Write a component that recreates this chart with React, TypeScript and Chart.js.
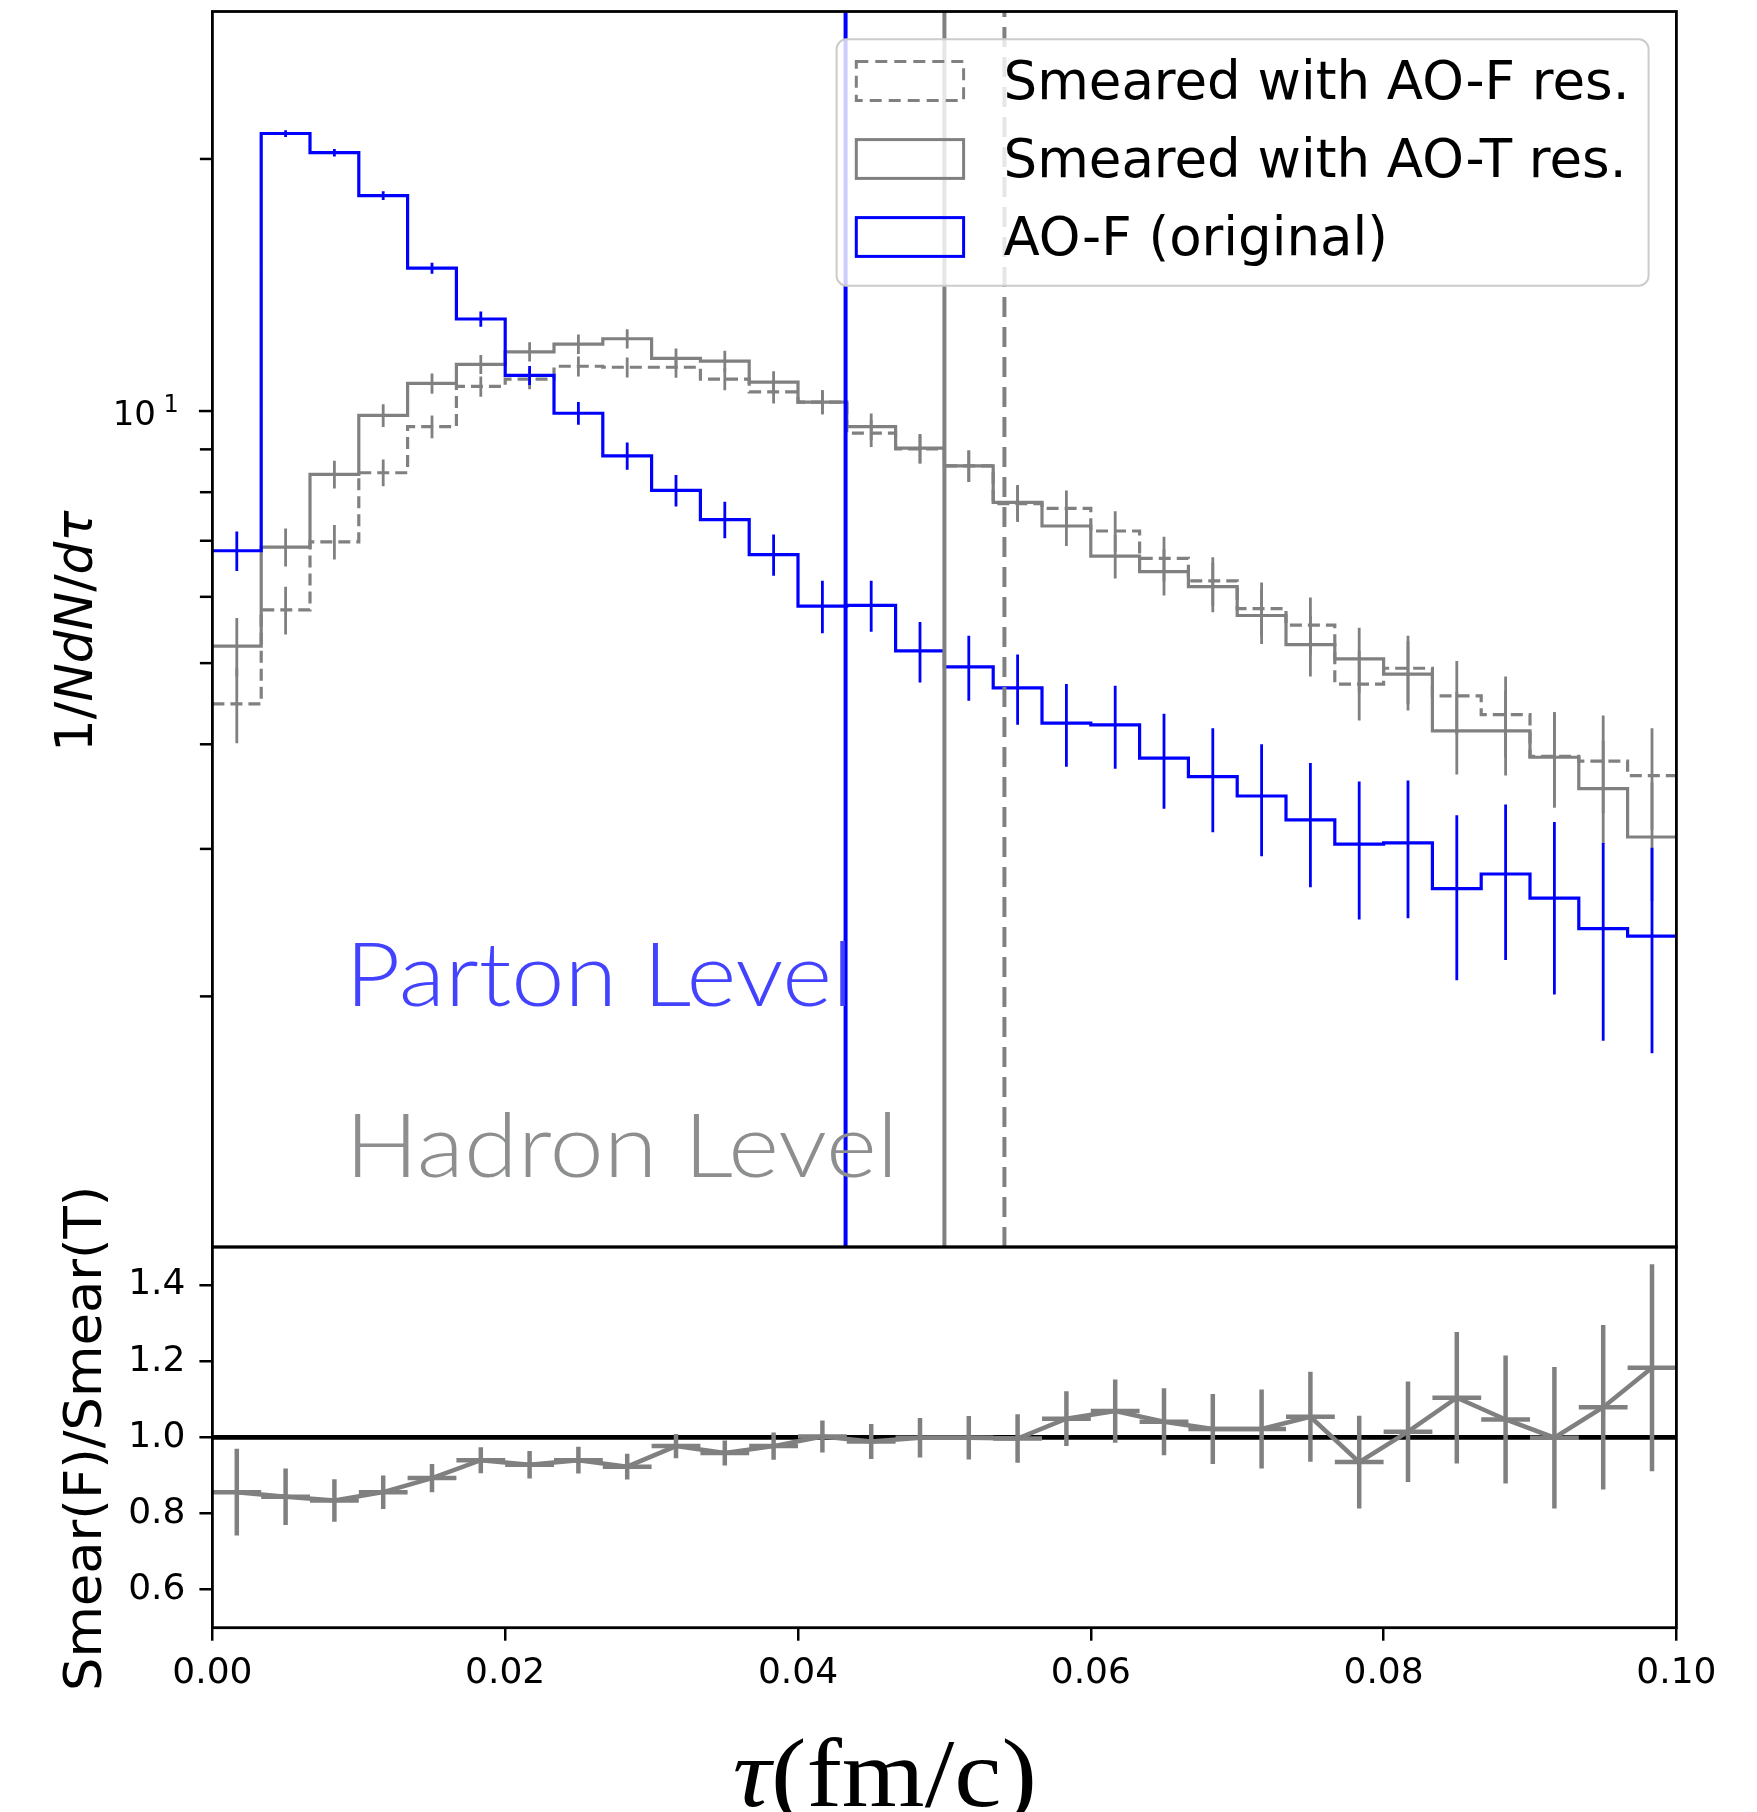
import React, { useEffect, useRef } from "react";
import { Chart, registerables } from "chart.js";

Chart.register(...registerables);

// ---------------- data ----------------
const TAU_MIN = 0;
const TAU_MAX = 0.1;
const N_BINS = 30;
const binEdges = Array.from({ length: N_BINS + 1 }, (_, i) => TAU_MIN + ((TAU_MAX - TAU_MIN) * i) / N_BINS);
const binCenters = binEdges.slice(0, N_BINS).map((e, i) => (e + binEdges[i + 1]) / 2);

// AO-F (original), parton level
const aofOriginal = [6.81, 21.45, 20.35, 18.08, 14.81, 12.88, 11.03, 9.94, 8.84, 8.04, 7.42, 6.74, 5.85, 5.86, 5.17, 4.95, 4.67, 4.24, 4.22, 3.85, 3.66, 3.47, 3.25, 3.04, 3.05, 2.69, 2.80, 2.62, 2.41, 2.36];
const aofOriginalErr = [0.37, 0.2, 0.21, 0.22, 0.22, 0.27, 0.29, 0.31, 0.33, 0.35, 0.37, 0.38, 0.42, 0.41, 0.43, 0.44, 0.45, 0.48, 0.48, 0.50, 0.52, 0.53, 0.55, 0.57, 0.57, 0.60, 0.59, 0.61, 0.64, 0.65];
// Smeared with AO-T res.
const smearT = [5.24, 6.88, 8.40, 9.88, 10.79, 11.37, 11.77, 12.02, 12.2, 11.56, 11.47, 10.83, 10.25, 9.58, 9.03, 8.60, 7.78, 7.29, 6.71, 6.43, 6.17, 5.70, 5.26, 5.06, 4.85, 4.15, 4.15, 3.86, 3.54, 3.10];
const smearTErr = [0.42, 0.36, 0.32, 0.31, 0.30, 0.30, 0.31, 0.32, 0.32, 0.32, 0.33, 0.33, 0.34, 0.35, 0.36, 0.37, 0.38, 0.39, 0.40, 0.41, 0.42, 0.43, 0.44, 0.45, 0.46, 0.47, 0.48, 0.50, 0.50, 0.50];
// Smeared with AO-F res.
const smearF = [4.47, 5.79, 6.98, 8.44, 9.58, 10.70, 10.92, 11.31, 11.28, 11.28, 10.92, 10.54, 10.25, 9.41, 9.01, 8.60, 7.75, 7.65, 7.19, 6.67, 6.27, 5.81, 5.55, 4.72, 4.93, 4.57, 4.34, 3.87, 3.82, 3.67];
const smearFErr = [0.46, 0.38, 0.33, 0.31, 0.30, 0.30, 0.30, 0.31, 0.31, 0.32, 0.33, 0.33, 0.34, 0.35, 0.36, 0.37, 0.38, 0.39, 0.40, 0.41, 0.42, 0.43, 0.44, 0.45, 0.46, 0.46, 0.48, 0.50, 0.51, 0.51];
// Ratio Smear(F)/Smear(T)
const ratioFT = [0.856, 0.844, 0.834, 0.856, 0.893, 0.94, 0.928, 0.94, 0.923, 0.977, 0.959, 0.977, 1.002, 0.989, 0.999, 0.999, 0.997, 1.049, 1.069, 1.041, 1.022, 1.022, 1.054, 0.935, 1.015, 1.104, 1.047, 0.999, 1.079, 1.183];
const ratioFTErr = [0.114, 0.074, 0.056, 0.044, 0.037, 0.034, 0.036, 0.035, 0.034, 0.032, 0.033, 0.036, 0.042, 0.046, 0.052, 0.057, 0.064, 0.072, 0.083, 0.088, 0.092, 0.104, 0.118, 0.122, 0.132, 0.173, 0.168, 0.186, 0.216, 0.272];

// vertical reference lines (means)
const meanParton = 0.04325;
const meanSmearT = 0.05;
const meanSmearF = 0.0541;

const xTicks = [0, 0.02, 0.04, 0.06, 0.08, 0.1];
const ratioTicks = [0.6, 0.8, 1.0, 1.2, 1.4];
const logMajorTicks = [10];
const logMinorTicks = [2, 3, 4, 5, 6, 7, 8, 9, 20];
const legendLabels = ["Smeared with AO-F res.", "Smeared with AO-T res.", "AO-F (original)"];

// ---------------- layout / style ----------------
const W = 1757;
const H = 1812;
const PLOT_L = 212.4;
const PLOT_R = 1676.4;
const TOP_T = 11.5;
const SPLIT = 1247;
const BOT_B = 1627.7;
const TOP_CANVAS_H = 1252;
const BOT_CANVAS_TOP = 1100;
const BOT_CANVAS_H = H - BOT_CANVAS_TOP;

const BLUE = "#0000ff";
const GRAY = "#808080";
const DV = '"DejaVu Sans"';

const stepPoints = (vals: number[]) =>
  binEdges.map((e, i) => ({ x: e, y: vals[Math.min(i, vals.length - 1)] }));

type Part = { text: string; font: string };

// draw text parts so that their ink spans [left, right] along baseline
function drawFitted(ctx: CanvasRenderingContext2D, parts: Part[], left: number, right: number, baseline: number, color: string) {
  let adv = 0;
  let inkL = 0;
  let inkR = 0;
  const widths: number[] = [];
  parts.forEach((p, i) => {
    ctx.font = p.font;
    const m = ctx.measureText(p.text);
    if (i === 0) inkL = -m.actualBoundingBoxLeft;
    if (i === parts.length - 1) inkR = adv + m.actualBoundingBoxRight;
    widths.push(m.width);
    adv += m.width;
  });
  const sx = (right - left) / (inkR - inkL);
  ctx.save();
  ctx.translate(left, baseline);
  ctx.scale(sx, 1);
  ctx.fillStyle = color;
  ctx.textAlign = "left";
  ctx.textBaseline = "alphabetic";
  let xx = -inkL;
  parts.forEach((p, i) => {
    ctx.font = p.font;
    ctx.fillText(p.text, xx, 0);
    xx += widths[i];
  });
  ctx.restore();
}

// rotated (reading upward) text; ink spans page y from yBottom up to yTop, baseline at page x
function drawRotatedFitted(ctx: CanvasRenderingContext2D, parts: Part[], baselineX: number, yBottom: number, yTop: number, color: string) {
  ctx.save();
  ctx.translate(baselineX, yBottom);
  ctx.rotate(-Math.PI / 2);
  drawFitted(ctx, parts, 0, yBottom - yTop, 0, color);
  ctx.restore();
}

function line(ctx: CanvasRenderingContext2D, x1: number, y1: number, x2: number, y2: number) {
  ctx.beginPath();
  ctx.moveTo(x1, y1);
  ctx.lineTo(x2, y2);
  ctx.stroke();
}

const topPlugin = {
  id: "topDecor",
  afterDatasetsDraw(chart: any) {
    const { ctx, chartArea: ca } = chart;
    const x = chart.scales.x;
    const y = chart.scales.y;
    ctx.save();
    ctx.beginPath();
    ctx.rect(ca.left, ca.top, ca.right - ca.left, ca.bottom - ca.top);
    ctx.clip();
    ctx.lineCap = "butt";
    const series = [
      { v: smearF, e: smearFErr, c: GRAY },
      { v: smearT, e: smearTErr, c: GRAY },
      { v: aofOriginal, e: aofOriginalErr, c: BLUE },
    ];
    series.forEach((s) => {
      ctx.strokeStyle = s.c;
      ctx.lineWidth = 2.8;
      s.v.forEach((val, i) => {
        const cx = x.getPixelForValue(binCenters[i]);
        line(ctx, cx, y.getPixelForValue(val - s.e[i]), cx, y.getPixelForValue(val + s.e[i]));
      });
    });
    // vertical mean lines
    ctx.lineWidth = 4;
    ctx.strokeStyle = GRAY;
    ctx.setLineDash([20, 10]);
    let px = x.getPixelForValue(meanSmearF);
    line(ctx, px, ca.bottom, px, ca.top);
    ctx.setLineDash([]);
    px = x.getPixelForValue(meanSmearT);
    line(ctx, px, ca.bottom, px, ca.top);
    ctx.strokeStyle = BLUE;
    px = x.getPixelForValue(meanParton);
    line(ctx, px, ca.bottom, px, ca.top);
    ctx.restore();
  },
  afterDraw(chart: any) {
    const { ctx, chartArea: ca } = chart;
    const y = chart.scales.y;
    ctx.save();
    // frame
    ctx.strokeStyle = "#000";
    ctx.lineWidth = 2.8;
    ctx.strokeRect(ca.left, ca.top, ca.right - ca.left, ca.bottom - ca.top);
    // y ticks
    ctx.lineWidth = 2.5;
    logMinorTicks.forEach((v) => {
      const py = y.getPixelForValue(v);
      line(ctx, ca.left - 12.5, py, ca.left, py);
    });
    logMajorTicks.forEach((v) => {
      const py = y.getPixelForValue(v);
      line(ctx, ca.left - 13.5, py, ca.left, py);
      ctx.fillStyle = "#000";
      ctx.textBaseline = "alphabetic";
      ctx.font = `34px ${DV}`;
      ctx.textAlign = "right";
      ctx.fillText(String(v), 156, py + 14);
      ctx.font = `24px ${DV}`;
      ctx.textAlign = "left";
      ctx.fillText(String(Math.round(Math.log10(v))), 163.5, py + 1);
    });
    // y title
    drawRotatedFitted(
      ctx,
      [
        { text: "1/", font: `52px ${DV}` },
        { text: "NdN", font: `italic 52px ${DV}` },
        { text: "/", font: `52px ${DV}` },
        { text: "d\u03c4", font: `italic 52px ${DV}` },
      ],
      91.5,
      747,
      510,
      "#000"
    );
    // level annotations
    drawFitted(ctx, [{ text: "Parton Level", font: "300 88px Lato" }], 355, 845, 1005.5, "#4343ff");
    drawFitted(ctx, [{ text: "Hadron Level", font: "300 88px Lato" }], 355, 890, 1176.5, "#8c8e8f");
    // legend
    ctx.beginPath();
    (ctx as any).roundRect(836.6, 39.3, 812, 246.4, 10);
    ctx.fillStyle = "rgba(255,255,255,0.8)";
    ctx.fill();
    ctx.strokeStyle = "#cccccc";
    ctx.lineWidth = 2;
    ctx.stroke();
    const handles = [
      { c: GRAY, dash: [12, 7] },
      { c: GRAY, dash: [] as number[] },
      { c: BLUE, dash: [] as number[] },
    ];
    handles.forEach((h, k) => {
      const ty = 61.6 + 78 * k;
      ctx.setLineDash(h.dash);
      ctx.strokeStyle = h.c;
      ctx.lineWidth = 3;
      ctx.strokeRect(856.3, ty, 107.3, 38.8);
      ctx.setLineDash([]);
      ctx.fillStyle = "#000";
      ctx.font = `53px ${DV}`;
      ctx.textAlign = "left";
      ctx.textBaseline = "alphabetic";
      ctx.fillText(legendLabels[k], 1003.5, 99 + 78 * k);
    });
    ctx.restore();
  },
};

const botPlugin = {
  id: "botDecor",
  afterDatasetsDraw(chart: any) {
    const { ctx, chartArea: ca } = chart;
    const x = chart.scales.x;
    const y = chart.scales.y;
    ctx.save();
    ctx.beginPath();
    ctx.rect(ca.left, ca.top, ca.right - ca.left, ca.bottom - ca.top);
    ctx.clip();
    ctx.strokeStyle = GRAY;
    ctx.lineWidth = 4.5;
    ratioFT.forEach((r, i) => {
      const cx = x.getPixelForValue(binCenters[i]);
      const py = y.getPixelForValue(r);
      line(ctx, x.getPixelForValue(binEdges[i]), py, x.getPixelForValue(binEdges[i + 1]), py);
      line(ctx, cx, y.getPixelForValue(r - ratioFTErr[i]), cx, y.getPixelForValue(r + ratioFTErr[i]));
    });
    ctx.restore();
  },
  afterDraw(chart: any) {
    const { ctx, chartArea: ca } = chart;
    ctx.save();
    ctx.strokeStyle = "#000";
    ctx.lineWidth = 2.8;
    ctx.strokeRect(ca.left, ca.top, ca.right - ca.left, ca.bottom - ca.top);
    drawRotatedFitted(
      ctx,
      [{ text: "Smear(F)/Smear(T)", font: `52px ${DV}` }],
      101,
      1688 - BOT_CANVAS_TOP,
      1190 - BOT_CANVAS_TOP,
      "#000"
    );
    drawFitted(
      ctx,
      [
        { text: "\u03c4", font: 'italic 98px "Liberation Serif"' },
        { text: "(fm/c)", font: '98px "Liberation Serif"' },
      ],
      735,
      1033,
      1806 - BOT_CANVAS_TOP,
      "#000"
    );
    ctx.restore();
  },
};

export default function App() {
  const topRef = useRef<HTMLCanvasElement>(null);
  const botRef = useRef<HTMLCanvasElement>(null);

  useEffect(() => {
    const common = {
      responsive: false,
      animation: false as const,
      devicePixelRatio: 1,
      events: [] as any[],
    };
    const topChart = new Chart(topRef.current as HTMLCanvasElement, {
      type: "line",
      data: {
        datasets: [
          { label: legendLabels[2], data: stepPoints(aofOriginal), borderColor: BLUE, borderWidth: 3.2, stepped: "before", pointRadius: 0, fill: false },
          { label: legendLabels[1], data: stepPoints(smearT), borderColor: GRAY, borderWidth: 3.2, stepped: "before", pointRadius: 0, fill: false },
          { label: legendLabels[0], data: stepPoints(smearF), borderColor: GRAY, borderWidth: 3.2, borderDash: [12, 6], stepped: "before", pointRadius: 0, fill: false },
        ],
      },
      options: {
        ...common,
        layout: { padding: { left: 0, top: TOP_T, right: W - PLOT_R, bottom: 0 } },
        plugins: { legend: { display: false }, tooltip: { enabled: false } },
        scales: {
          x: {
            type: "linear",
            min: TAU_MIN,
            max: TAU_MAX,
            ticks: { display: false },
            grid: { display: false },
            border: { display: false },
            afterFit: (s: any) => {
              s.height = TOP_CANVAS_H - SPLIT;
              s.paddingLeft = 0;
              s.paddingRight = 0;
            },
          },
          y: {
            type: "logarithmic",
            min: 1.004,
            max: 30,
            ticks: { display: false },
            grid: { display: false },
            border: { display: false },
            afterFit: (s: any) => {
              s.width = PLOT_L;
              s.paddingTop = 0;
              s.paddingBottom = 0;
            },
          },
        },
      } as any,
      plugins: [topPlugin],
    });

    const tickFont = { family: "DejaVu Sans", size: 36 };
    const botChart = new Chart(botRef.current as HTMLCanvasElement, {
      type: "line",
      data: {
        datasets: [
          { label: "ratio", data: ratioFT.map((r, i) => ({ x: binCenters[i], y: r })), borderColor: GRAY, borderWidth: 4.5, pointRadius: 0, fill: false, tension: 0 },
          { label: "unity", data: [{ x: TAU_MIN, y: 1 }, { x: TAU_MAX, y: 1 }], borderColor: "#000", borderWidth: 4.8, pointRadius: 0, fill: false },
        ],
      },
      options: {
        ...common,
        layout: { padding: { left: 0, top: SPLIT - BOT_CANVAS_TOP, right: W - PLOT_R, bottom: 0 } },
        plugins: { legend: { display: false }, tooltip: { enabled: false } },
        scales: {
          x: {
            type: "linear",
            min: TAU_MIN,
            max: TAU_MAX,
            afterBuildTicks: (s: any) => {
              s.ticks = xTicks.map((v) => ({ value: v }));
            },
            ticks: { callback: (v: any) => Number(v).toFixed(2), font: tickFont, color: "#000", padding: 11, maxRotation: 0, autoSkip: false },
            grid: { drawOnChartArea: false, drawTicks: true, tickLength: 13, color: "#000", lineWidth: 2.5 },
            border: { display: false },
            afterFit: (s: any) => {
              s.height = BOT_CANVAS_H - (BOT_B - BOT_CANVAS_TOP);
              s.paddingLeft = 0;
              s.paddingRight = 0;
            },
          },
          y: {
            type: "linear",
            min: 0.5,
            max: 1.5,
            afterBuildTicks: (s: any) => {
              s.ticks = ratioTicks.map((v) => ({ value: v }));
            },
            ticks: { callback: (v: any) => Number(v).toFixed(1), font: tickFont, color: "#000", padding: 14, autoSkip: false },
            grid: { drawOnChartArea: false, drawTicks: true, tickLength: 13, color: "#000", lineWidth: 2.5 },
            border: { display: false },
            afterFit: (s: any) => {
              s.width = PLOT_L;
              s.paddingTop = 0;
              s.paddingBottom = 0;
            },
          },
        },
      } as any,
      plugins: [botPlugin],
    });

    return () => {
      topChart.destroy();
      botChart.destroy();
    };
  }, []);

  return (
    <div style={{ position: "absolute", left: 0, top: 0, width: W, height: H, background: "#ffffff", overflow: "hidden" }}>
      <canvas
        ref={topRef}
        width={W}
        height={TOP_CANVAS_H}
        style={{ position: "absolute", left: 0, top: 0, width: W, height: TOP_CANVAS_H }}
      />
      <canvas
        ref={botRef}
        width={W}
        height={BOT_CANVAS_H}
        style={{ position: "absolute", left: 0, top: BOT_CANVAS_TOP, width: W, height: BOT_CANVAS_H }}
      />
    </div>
  );
}
